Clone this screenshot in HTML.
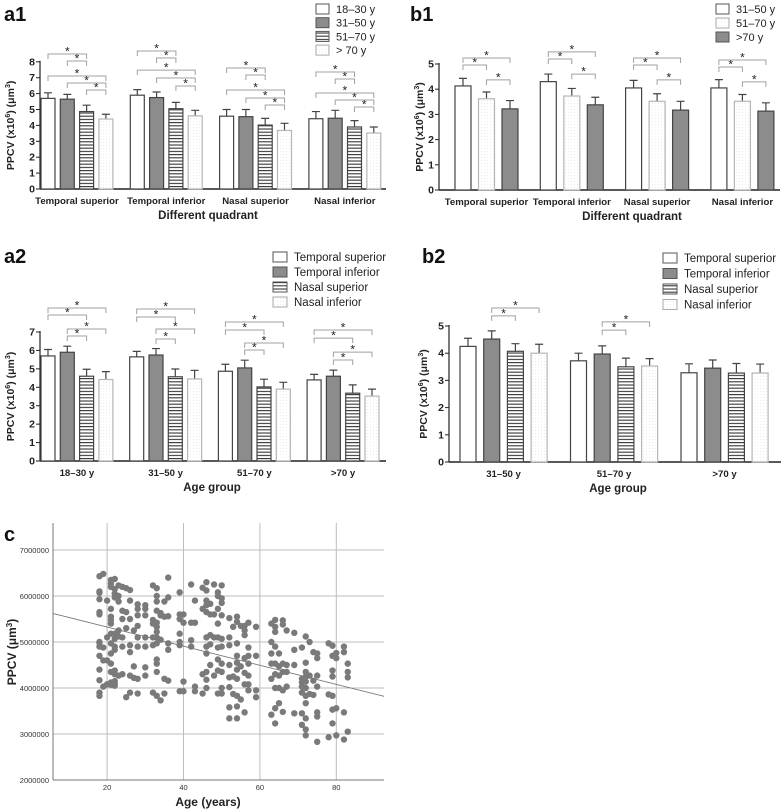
<!DOCTYPE html>
<html><head><meta charset="utf-8">
<style>
html,body{margin:0;padding:0;background:#fff;}
svg{display:block;font-family:"Liberation Sans",Arial,sans-serif;}
</style></head>
<body>
<svg id="fig" width="784" height="812" viewBox="0 0 784 812" xmlns="http://www.w3.org/2000/svg">
<defs>
<pattern id="stripes" width="4" height="3.2" patternUnits="userSpaceOnUse"><rect width="4" height="3.2" fill="#fff"/><line x1="0" y1="1" x2="4" y2="1" stroke="#333" stroke-width="1.1"/></pattern>
<pattern id="dots" width="3" height="3" patternUnits="userSpaceOnUse"><rect width="3" height="3" fill="#fff"/><rect x="1" y="1" width="0.8" height="0.8" fill="#e2e2e2"/></pattern>
</defs>
</svg>
<script>
// ---------- a1 data ----------
const a1Categories = ["Temporal superior","Temporal inferior","Nasal superior","Nasal inferior"];
const a1Series = ["18–30 y","31–50 y","51–70 y","> 70 y"];
const a1Means = [[5.7,5.65,4.87,4.4],[5.9,5.75,5.05,4.6],[4.58,4.55,4.02,3.68],[4.42,4.45,3.9,3.52]];
const a1Errors = [[0.35,0.3,0.4,0.3],[0.35,0.35,0.4,0.35],[0.42,0.45,0.42,0.45],[0.45,0.5,0.4,0.38]];
const a1Ticks = [0,1,2,3,4,5,6,7,8];
const a1Pairs = [[0,2],[1,2],[0,3],[1,3],[2,3]];
const a1Levels = [[8.49,8.05,7.11,6.67,6.23],[8.68,8.24,7.48,6.98,6.48],[7.61,7.17,6.23,5.72,5.28],[7.36,6.92,6.04,5.6,5.16]];
// ---------- b1 data ----------
const b1Categories = ["Temporal superior","Temporal inferior","Nasal superior","Nasal inferior"];
const b1Series = ["31–50 y","51–70 y",">70 y"];
const b1Means = [[4.13,3.62,3.22],[4.3,3.73,3.38],[4.05,3.52,3.17],[4.05,3.52,3.13]];
const b1Errors = [[0.3,0.27,0.33],[0.3,0.3,0.3],[0.3,0.3,0.35],[0.33,0.27,0.33]];
const b1Ticks = [0,1,2,3,4,5];
const b1Pairs = [[0,2],[0,1],[1,2]];
const b1Levels = [[5.24,4.96,4.37],[5.48,5.2,4.6],[5.24,4.96,4.37],[5.16,4.88,4.29]];
// ---------- a2 data ----------
const a2Categories = ["18–30 y","31–50 y","51–70 y",">70 y"];
const a2Series = ["Temporal superior","Temporal inferior","Nasal superior","Nasal inferior"];
const a2Means = [[5.7,5.9,4.6,4.42],[5.65,5.75,4.57,4.45],[4.87,5.05,4.02,3.9],[4.4,4.6,3.68,3.52]];
const a2Errors = [[0.35,0.33,0.38,0.43],[0.3,0.35,0.42,0.47],[0.38,0.42,0.42,0.37],[0.3,0.33,0.45,0.38]];
const a2Ticks = [0,1,2,3,4,5,6,7];
const a2Pairs = [[0,3],[0,2],[1,3],[1,2]];
const a2Levels = [[8.3,7.92,7.16,6.78],[8.25,7.81,7.16,6.62],[7.54,7.11,6.4,6.02],[7.11,6.67,5.91,5.48]];
// ---------- b2 data ----------
const b2Categories = ["31–50 y","51–70 y",">70 y"];
const b2Series = ["Temporal superior","Temporal inferior","Nasal superior","Nasal inferior"];
const b2Means = [[4.25,4.52,4.07,4.0],[3.72,3.97,3.5,3.53],[3.28,3.45,3.27,3.27]];
const b2Errors = [[0.3,0.3,0.28,0.33],[0.28,0.3,0.32,0.27],[0.33,0.3,0.35,0.33]];
const b2Ticks = [0,1,2,3,4,5];
const b2Pairs = [[1,3],[1,2]];
const b2Levels = [[5.66,5.37],[5.15,4.85],[]];
// ---------- c data ----------
const cXTicks = [20,40,60,80];
const cYTicks = [2000000,3000000,4000000,5000000,6000000,7000000];
const cIntercept = 5.74; // millions at age 0
const cSlope = -0.02076; // millions per year
const cPoints = [
[18,3.83],[18,3.9],[18,4.17],[18,4.4],[18,4.7],[18,4.9],[18,4.98],[18,5.0],[18,5.6],[18,5.65],[18,5.93],[18,6.07],[18,6.1],[18,6.43],
[19,6.48],[19,4.88],[19,4.03],[19,4.6],
[20,5.9],[20,5.1],[20,4.6],[20,4.08],
[21,6.35],[21,6.27],[21,6.2],[21,5.72],[21,5.55],[21,5.48],[21,5.4],[21,5.18],[21,4.97],[21,4.75],[21,4.53],[21,4.35],[21,4.12],[21,4.07],
[22,6.37],[22,6.15],[22,6.05],[22,5.97],[22,5.18],[22,5.07],[22,4.9],[22,4.83],[22,4.38],[22,4.3],[22,4.15],[22,4.1],[22,4.05],
[23,6.23],[23,6.0],[23,5.88],[23,5.25],[23,5.12],[23,4.27],
[24,6.2],[24,5.68],[24,5.5],[24,5.1],[24,4.9],[24,4.3],
[25,6.17],[25,5.65],[25,5.3],[25,3.8],
[26,6.13],[26,5.9],[26,5.5],[26,4.93],[26,4.78],[26,4.27],[26,3.9],
[27,5.25],[27,4.47],[27,4.22],
[28,5.82],[28,5.72],[28,5.58],[28,5.35],[28,5.1],[28,4.9],[28,4.2],[28,3.88],
[30,5.8],[30,5.72],[30,5.58],[30,5.1],[30,4.9],[30,4.45],[30,4.27],
[32,6.23],[32,5.48],[32,5.4],[32,5.1],[32,4.93],[32,3.9],
[33,6.17],[33,6.0],[33,5.88],[33,5.68],[33,5.42],[33,5.33],[33,5.22],[33,5.1],[33,4.97],[33,4.62],[33,4.53],[33,4.35],[33,3.83],
[34,5.63],[34,5.58],[34,5.05],[34,3.73],
[35,5.88],[35,5.55],[35,4.2],[35,3.88],
[36,6.4],[36,5.97],[36,5.56],[36,4.97],[36,4.83],[36,4.16],
[39,6.08],[39,5.6],[39,5.5],[39,5.18],[39,5.0],[39,4.93],[39,3.93],
[40,5.6],[40,5.42],[40,4.14],[40,3.93],
[42,6.25],[42,5.42],[42,5.04],[42,4.9],
[43,5.9],[43,5.42],[43,4.03],[43,3.93],
[45,6.18],[45,5.72],[45,4.3],[45,3.88],
[46,6.3],[46,6.12],[46,5.9],[46,5.8],[46,5.65],[46,5.1],[46,4.9],[46,4.75],[46,4.35],[46,4.18],[46,4.0],
[47,5.83],[47,5.6],[47,5.15],[47,4.95],[47,4.5],
[48,6.25],[48,5.6],[48,5.1],[48,4.27],
[49,6.08],[49,6.0],[49,5.72],[49,5.4],[49,5.1],[49,4.88],[49,4.62],[49,4.38],[49,3.88],
[50,6.23],[50,5.95],[50,5.85],[50,5.58],[50,5.07],[50,4.9],[50,4.53],[50,4.35],[50,4.0],[50,3.88],
[52,5.52],[52,5.1],[52,4.93],[52,4.5],[52,4.23],[52,4.02],[52,3.58],[52,3.34],
[53,5.33],[53,4.25],[53,3.87],
[54,5.55],[54,5.44],[54,4.97],[54,4.7],[54,4.55],[54,4.4],[54,4.2],[54,3.83],[54,3.6],[54,3.34],
[55,5.35],[55,4.47],[55,3.75],
[56,5.35],[56,5.25],[56,5.15],[56,4.65],[56,4.33],[56,4.08],[56,3.47],
[57,5.42],[57,4.88],[57,4.7],[57,4.53],[57,4.27],[57,4.08],[57,3.95],
[59,5.33],[59,4.7],[59,3.95],[59,3.8],
[63,5.4],[63,5.0],[63,4.75],[63,4.53],[63,4.2],[63,3.42],
[64,5.48],[64,5.33],[64,5.22],[64,4.9],[64,4.53],[64,4.3],[64,4.0],[64,3.56],[64,3.23],
[65,4.75],[65,4.47],[65,4.27],[65,4.0],[65,3.67],
[66,5.47],[66,5.38],[66,4.53],[66,4.35],[66,3.95],[66,3.48],
[67,5.25],[67,4.5],[67,4.35],[67,4.03],
[69,5.2],[69,4.83],[69,4.5],[69,3.45],
[71,4.88],[71,4.2],[71,4.12],[71,4.03],[71,3.9],[71,3.45],[71,3.2],
[72,5.12],[72,4.55],[72,4.35],[72,4.25],[72,4.14],[72,4.0],[72,3.83],[72,3.67],[72,3.34],[72,3.1],[72,2.97],
[73,5.0],[73,4.27],[73,3.87],
[74,4.78],[74,4.16],[74,3.85],
[75,4.75],[75,4.65],[75,4.27],[75,4.03],[75,3.47],[75,3.38],[75,2.83],
[78,4.97],[78,3.86],[78,2.93],
[79,4.92],[79,4.7],[79,4.38],[79,4.25],[79,3.83],[79,3.53],[79,3.23],
[80,4.76],[80,4.65],[80,3.56],[80,2.97],
[82,4.9],[82,4.78],[82,3.47],[82,2.88],
[83,4.53],[83,4.35],[83,4.23],[83,3.05]
];

const NS = "http://www.w3.org/2000/svg";
const fig = document.getElementById("fig");
function mk(tag, attrs, parent, text){
  const e = document.createElementNS(NS, tag);
  for (const k in attrs) e.setAttribute(k, attrs[k]);
  if (text !== undefined) e.textContent = text;
  (parent || fig).appendChild(e);
  return e;
}
const fills = {white:"#fff", grey:"#8c8c8c", stripes:"url(#stripes)", dots:"url(#dots)"};
const strokes = {white:"#444", grey:"#444", stripes:"#444", dots:"#b5b5b5"};

function barChart(cfg){
  const g = mk("g", {});
  
  
  const yS = v => cfg.y0 - v * cfg.unit;
  const ymax = cfg.ticks[cfg.ticks.length-1];
  const pl = mk("text", {x:cfg.labelX, y:cfg.labelY, "font-size":20, "font-weight":"bold", fill:"#111"}, g, cfg.panel);
  
  
  const ya = mk("line", {x1:cfg.x0, y1:yS(ymax)-1, x2:cfg.x0, y2:cfg.y0, stroke:"#222", "stroke-width":1.2}, g);
  
  
  const xa = mk("line", {x1:cfg.x0, y1:cfg.y0, x2:cfg.xEnd, y2:cfg.y0, stroke:"#222", "stroke-width":1.4}, g);
  
  
  cfg.ticks.forEach(t => {
    mk("line", {x1:cfg.x0-4, y1:yS(t), x2:cfg.x0, y2:yS(t), stroke:"#222", "stroke-width":1}, g);
    const tl = mk("text", {x:cfg.x0-5, y:yS(t)+3.5, "font-size":10.5, "font-weight":"bold", "text-anchor":"end", fill:"#222"}, g, t);
    
    
  });
  const yt = mk("text", {transform:`translate(${cfg.yTitleX},${(yS(ymax)+cfg.y0)/2}) rotate(-90)`, "font-size":10.5, "font-weight":"bold", "text-anchor":"middle", fill:"#222"}, g);
  
  
  yt.innerHTML = 'PPCV (x10<tspan dy="-4" font-size="7">6</tspan><tspan dy="4">) (μm</tspan><tspan dy="-4" font-size="7">3</tspan><tspan dy="4">)</tspan>';
  const nS = cfg.series.length;
  const bx = (gi, si) => cfg.start + gi*cfg.groupStep + si*cfg.barStep;
  cfg.categories.forEach((cat, gi) => {
    const cx = bx(gi,0) + ((nS-1)*cfg.barStep + cfg.barW)/2;
    const cl = mk("text", {x:cx, y:cfg.y0+15, "font-size":9.6, "font-weight":"bold", "text-anchor":"middle", fill:"#222"}, g, cat);
    
    
    cfg.means[gi].forEach((m, si) => {
      const x = bx(gi, si), st = cfg.styles[si];
      const e = cfg.errors[gi][si];
      const cxb = x + cfg.barW/2;
      const eb = mk("path", {d:`M${cxb},${yS(m)} V${yS(m+e)} M${cxb-4},${yS(m+e)} H${cxb+4}`, stroke:"#444", "stroke-width":1.2, fill:"none"}, g);
      
      
      const r = mk("rect", {x:x, y:yS(m), width:cfg.barW, height:cfg.y0-yS(m), fill:fills[st], stroke:strokes[st], "stroke-width":1.2}, g);
      
      
    });
    cfg.levels[gi].forEach((lv, k) => {
      const p = cfg.pairs[k];
      const xa1 = bx(gi,p[0]) + cfg.barW/2, xa2 = bx(gi,p[1]) + cfg.barW/2, yy = yS(lv);
      const br = mk("path", {d:`M${xa1},${yy+5} V${yy} H${xa2} V${yy+5}`, stroke:"#a0a0a0", "stroke-width":1, fill:"none"}, g);
      
      
      const s = mk("text", {x:(xa1+xa2)/2, y:yy+1.5, "font-size":12, "text-anchor":"middle", fill:"#222"}, g, "*");
      
      
    });
  });
  const xt = mk("text", {x:cfg.xTitleX, y:cfg.y0+30, "font-size":11.5, "font-weight":"bold", "text-anchor":"middle", fill:"#222"}, g, cfg.xTitle);
  
  
  cfg.series.forEach((s, i) => {
    const ly = cfg.legY + i*cfg.legStep;
    const lb = mk("rect", {x:cfg.legX, y:ly-5, width:cfg.legW, height:10, fill:fills[cfg.styles[i]], stroke:strokes[cfg.styles[i]]==="#b5b5b5"?"#aaa":"#555", "stroke-width":1}, g);
    
    
    const lt = mk("text", {x:cfg.legX+cfg.legW+7, y:ly+4, "font-size":cfg.legFont, fill:"#222"}, g, s);
    
    
  });
}

barChart({name:"chart-a1", panel:"a1", labelX:4, labelY:21, x0:40, xEnd:386, y0:189, unit:15.9, ticks:a1Ticks,
  categories:a1Categories, series:a1Series, means:a1Means, errors:a1Errors, pairs:a1Pairs, levels:a1Levels,
  styles:["white","grey","stripes","dots"], start:41, groupStep:89.3, barStep:19.3, barW:14, yTitleX:14,
  xTitle:"Different quadrant", xTitleX:208, legX:316, legY:9, legStep:13.7, legW:13, legFont:11});
barChart({name:"chart-b1", panel:"b1", labelX:410, labelY:21, x0:439, xEnd:780, y0:190, unit:25.2, ticks:b1Ticks,
  categories:b1Categories, series:b1Series, means:b1Means, errors:b1Errors, pairs:b1Pairs, levels:b1Levels,
  styles:["white","dots","grey"], start:455, groupStep:85.3, barStep:23.5, barW:16, yTitleX:423,
  xTitle:"Different quadrant", xTitleX:632, legX:716, legY:9, legStep:14, legW:13, legFont:11});
barChart({name:"chart-a2", panel:"a2", labelX:4, labelY:263, x0:40, xEnd:386, y0:461, unit:18.43, ticks:a2Ticks,
  categories:a2Categories, series:a2Series, means:a2Means, errors:a2Errors, pairs:a2Pairs, levels:a2Levels,
  styles:["white","grey","stripes","dots"], start:41, groupStep:88.7, barStep:19.3, barW:14, yTitleX:14,
  xTitle:"Age group", xTitleX:212, legX:273, legY:257, legStep:15, legW:14, legFont:11.5});
barChart({name:"chart-b2", panel:"b2", labelX:422, labelY:263, x0:449, xEnd:781, y0:462, unit:27.2, ticks:b2Ticks,
  categories:b2Categories, series:b2Series, means:b2Means, errors:b2Errors, pairs:b2Pairs, levels:b2Levels,
  styles:["white","grey","stripes","dots"], start:460, groupStep:110.5, barStep:23.7, barW:16, yTitleX:427,
  xTitle:"Age group", xTitleX:618, legX:663, legY:258, legStep:15.5, legW:14, legFont:11.5});

// ---------- scatter c ----------
(function(){
  const g = mk("g", {});
  
  
  const L = 53, R = 384, B = 780, T = 523;
  const xS = a => 30.7 + a*3.82;
  const yS = v => 780 - (v/1e6 - 2)*46;
  const pl = mk("text", {x:4, y:541, "font-size":20, "font-weight":"bold", fill:"#111"}, g, "c");
  
  
  cYTicks.forEach(t => {
    if (t > 2000000) {
      const gl = mk("line", {x1:L, y1:yS(t), x2:R, y2:yS(t), stroke:"#bdbdbd", "stroke-width":1}, g);
      
      
    }
    const tl = mk("text", {x:L-4, y:yS(t)+3, "font-size":7.5, "text-anchor":"end", fill:"#333"}, g, t);
    
    
  });
  cXTicks.forEach(t => {
    const gl = mk("line", {x1:xS(t), y1:T, x2:xS(t), y2:B, stroke:"#bdbdbd", "stroke-width":1}, g);
    
    
    const tl = mk("text", {x:xS(t), y:B+10, "font-size":7.5, "text-anchor":"middle", fill:"#333"}, g, t);
    
    
  });
  const ya = mk("line", {x1:L, y1:T, x2:L, y2:B, stroke:"#777", "stroke-width":1}, g);
  
  
  const xa = mk("line", {x1:L, y1:B, x2:R, y2:B, stroke:"#777", "stroke-width":1}, g);
  
  
  cPoints.forEach(p => {
    const c = mk("circle", {cx:xS(p[0]), cy:yS(p[1]*1e6), r:3.2, fill:"#7a7a7a"}, g);
    
    
  });
  const a1 = 5.8, a2 = 92.5;
  const fl = mk("line", {x1:xS(a1), y1:yS((cIntercept+cSlope*a1)*1e6), x2:xS(a2), y2:yS((cIntercept+cSlope*a2)*1e6), stroke:"#777", "stroke-width":0.9}, g);
  
  
  const yt = mk("text", {transform:"translate(16,652) rotate(-90)", "font-size":12, "font-weight":"bold", "text-anchor":"middle", fill:"#222"}, g);
  
  
  yt.innerHTML = 'PPCV (μm<tspan dy="-4" font-size="8">3</tspan><tspan dy="4">)</tspan>';
  const xt = mk("text", {x:208, y:806, "font-size":12, "font-weight":"bold", "text-anchor":"middle", fill:"#222"}, g, "Age (years)");
  
  
})();
</script>
</body></html>
